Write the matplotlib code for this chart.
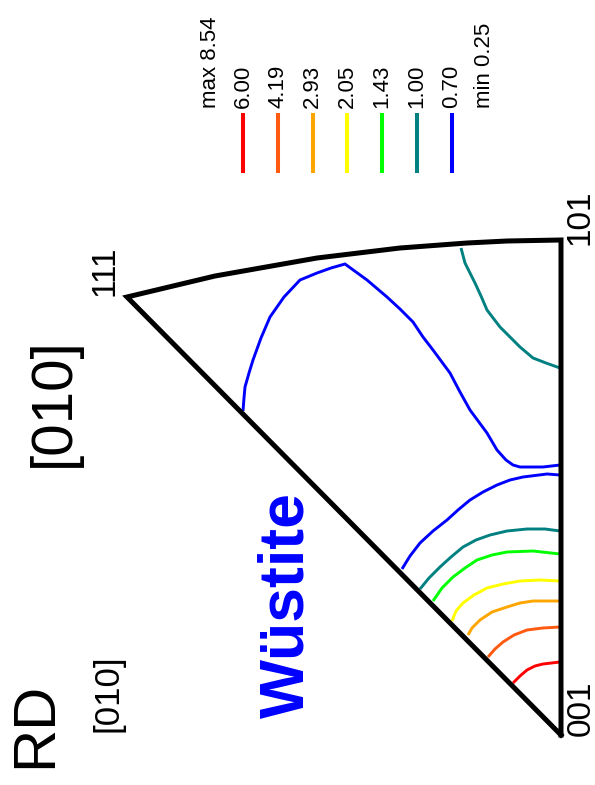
"""Inverse pole figure (RD, [010]) for the wustite phase, drawn rotated 90 deg."""

import matplotlib

matplotlib.use("Agg")
import matplotlib.pyplot as plt

plt.rcParams["font.family"] = ["Liberation Sans", "DejaVu Sans"]

W, H, DPI = 595, 785, 100

# contour levels (multiples of random) and their colours
LEVELS = [6.00, 4.19, 2.93, 2.05, 1.43, 1.00, 0.70]
LEVEL_COLORS = ["#ff0000", "#ff5a10", "#ffa500", "#ffff00", "#00ff00", "#008080", "#0000ff"]
MAX_VALUE = 8.54
MIN_VALUE = 0.25

# standard triangle boundary: 001 -> 111, curved 111 -> 101 edge, 101 -> 001
POLE_001 = (561, 735)
POLE_111 = (127, 297)
POLE_101 = (561, 240)
EDGE_111_101 = [(127, 297), (215, 276), (317, 258), (400, 248), (467, 243),
                (507, 241), (561, 240)]

# traced iso-density lines
line_600 = [(513, 683), (520, 676), (527, 670), (535, 666), (543, 664), (560, 662)]
line_419 = [(488, 657), (495, 649), (503, 642), (514, 635), (527, 630),
            (543, 628), (560, 627)]
line_293 = [(468, 635), (472, 628), (480, 620), (492, 612), (507, 607),
            (520, 603), (533, 601), (560, 601)]
line_205 = [(452, 621), (456, 611), (463, 603), (474, 595), (487, 588),
            (503, 584), (520, 581), (540, 580), (560, 581)]
line_143 = [(433, 601), (442, 588), (453, 577), (465, 568), (477, 560),
            (492, 555), (507, 552), (533, 551), (560, 554)]
line_100_low = [(420, 589), (429, 578), (440, 567), (451, 557), (463, 547),
                (476, 540), (490, 535), (507, 531), (527, 529), (545, 529),
                (560, 531)]
line_100_high = [(461, 248), (465, 263), (470, 273), (475, 283), (481, 296),
                 (487, 310), (500, 327), (510, 337), (520, 347), (533, 358),
                 (546, 363), (560, 368)]
line_070_low = [(402, 569), (410, 556), (420, 543), (433, 531), (447, 520),
                (458, 510), (470, 500), (483, 492), (497, 485), (510, 480),
                (523, 477), (547, 474), (560, 475)]
line_070_loop = [(243, 411), (244, 398), (245, 387), (249, 373), (253, 360),
                 (261, 338), (270, 317), (284, 297), (300, 280), (317, 273),
                 (331, 268), (345, 264), (356, 272), (367, 280), (387, 297),
                 (400, 309), (413, 322), (423, 337), (433, 350), (450, 373),
                 (460, 392), (470, 410), (487, 433), (497, 450), (506, 460),
                 (513, 465), (520, 467), (543, 467), (560, 465)]

CONTOURS = [
    (6.00, line_600),
    (4.19, line_419),
    (2.93, line_293),
    (2.05, line_205),
    (1.43, line_143),
    (1.00, line_100_low),
    (1.00, line_100_high),
    (0.70, line_070_low),
    (0.70, line_070_loop),
]


def main():
    fig = plt.figure(figsize=(W / DPI, H / DPI), dpi=DPI)
    ax = fig.add_axes([0, 0, 1, 1])
    ax.set_xlim(0, W)
    ax.set_ylim(H, 0)
    ax.axis("off")

    color_of = dict(zip(LEVELS, LEVEL_COLORS))
    for level, pts in CONTOURS:
        xs, ys = zip(*pts)
        ax.plot(xs, ys, color=color_of[level], lw=2.1, solid_capstyle="butt",
                solid_joinstyle="round")

    outline = [POLE_001] + EDGE_111_101 + [POLE_101, POLE_001]
    xs, ys = zip(*outline)
    ax.plot(xs, ys, color="black", lw=3.6, solid_joinstyle="miter",
            solid_capstyle="projecting")

    # legend: vertical colour strokes with rotated values above them
    for i, (level, color) in enumerate(zip(LEVELS, LEVEL_COLORS)):
        x = 243 + i * 34.8
        ax.plot([x, x], [113, 173], color=color, lw=2.9, solid_capstyle="butt")
        ax.text(x, 108, f"{level:.2f}", rotation=90, ha="center", va="bottom",
                fontsize=16)
    ax.text(210, 108, f"max {MAX_VALUE:.2f}", rotation=90, ha="center",
            va="bottom", fontsize=16)
    ax.text(485, 108, f"min {MIN_VALUE:.2f}", rotation=90, ha="center",
            va="bottom", fontsize=16)

    # pole labels
    ax.text(581, 708, "001", rotation=90, ha="center", va="center", fontsize=24)
    ax.text(580, 217, "101", rotation=90, ha="center", va="center", fontsize=24)
    ax.text(105, 271, "111", rotation=90, ha="center", va="center", fontsize=24)

    # titles
    ax.text(54, 402, "[010]", rotation=90, ha="center", va="center", fontsize=42)
    ax.text(36, 725, "RD", rotation=90, ha="center", va="center", fontsize=43)
    ax.text(108, 693, "[010]", rotation=90, ha="center", va="center", fontsize=25)
    ax.text(287, 605, "Wüstite", rotation=90, ha="center", va="center",
            fontsize=45, fontweight="bold", color="#0000ff")

    fig.savefig("out.png", dpi=DPI)


if __name__ == "__main__":
    main()
